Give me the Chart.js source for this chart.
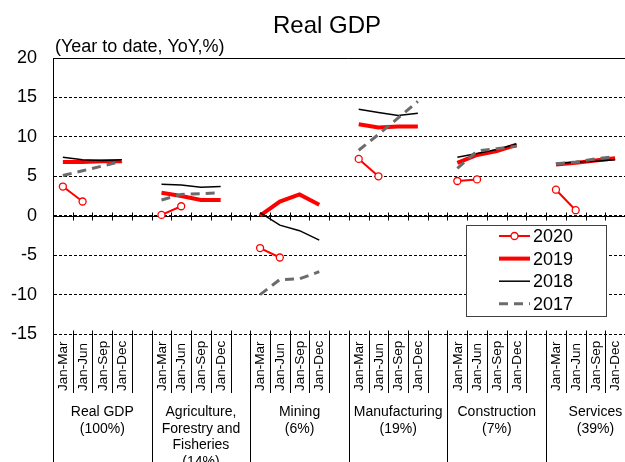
<!DOCTYPE html>
<html>
<head>
<meta charset="utf-8">
<script src="https://cdn.jsdelivr.net/npm/chart.js@4"></script>
<style>
  html, body { margin: 0; padding: 0; overflow: hidden; background: #fff; }
  canvas { display: block; }
</style>
</head>
<body>
<canvas id="gdpChart" width="650" height="462"></canvas>
<script>
// categories
const quarters = ['Jan-Mar', 'Jan-Jun', 'Jan-Sep', 'Jan-Dec'];
const groups = [
    ['Real GDP', '(100%)'],
    ['Agriculture,', 'Forestry and', 'Fisheries', '(14%)'],
    ['Mining', '(6%)'],
    ['Manufacturing', '(19%)'],
    ['Construction', '(7%)'],
    ['Services', '(39%)']
];

// values per group, quarter by quarter
const y2020 = [[3.7, 1.8], [0.1, 1.2], [-4.1, -5.3], [7.2, 5.0], [4.4, 4.6], [3.3, 0.7]];
const y2019 = [[6.8, 6.8, 6.9, 6.9], [2.9, 2.5, 2.0, 2.0], [0.0, 1.8, 2.7, 1.4], [11.6, 11.2, 11.3, 11.3], [6.7, 7.7, 8.2, 9.0], [6.5, 6.7, 7.0, 7.3]];
const y2018 = [[7.4, 7.1, 7.0, 7.1], [4.0, 3.9, 3.6, 3.7], [0.4, -1.2, -1.9, -3.1], [13.5, 13.1, 12.7, 13.0], [7.4, 7.9, 8.4, 9.1], [6.6, 6.8, 6.9, 7.1]];
const y2017 = [[5.1, 5.7, 6.3, 6.9], [2.0, 2.7, 2.8, 2.9], [-10.0, -8.1, -8.0, -7.1], [8.3, 10.3, 12.4, 14.5], [6.0, 8.2, 8.5, 8.8], [6.6, 6.8, 7.2, 7.5]];

// y axis ticks
const yTicks = [-15, -10, -5, 0, 5, 10, 15, 20];

const FONT = "'Liberation Sans', Arial, sans-serif";

// 4 quarters + one empty slot per group
const labels = [];
groups.forEach(() => { quarters.forEach(q => labels.push(q)); labels.push(''); });

function flatten(series) {
    const out = [];
    series.forEach(g => {
        for (let i = 0; i < 4; i++) out.push(g[i] === undefined ? null : g[i]);
        out.push(null);
    });
    return out;
}

const RED = '#ff0000';
const GREY = '#6b6b6b';

const decor = {
    id: 'decor',
    beforeDatasetsDraw(chart) {
        const ctx = chart.ctx;
        const xs = chart.scales.x, ys = chart.scales.y;
        const w = xs.getPixelForValue(1) - xs.getPixelForValue(0);
        ctx.save();
        ctx.strokeStyle = '#000';
        ctx.lineWidth = 1;
        // solid top border and zero line
        [20, 0].forEach(v => {
            const y = Math.round(ys.getPixelForValue(v)) + 0.5;
            ctx.beginPath();
            ctx.moveTo(xs.left, y);
            ctx.lineTo(xs.right, y);
            ctx.stroke();
        });
        // tick marks on zero line and bottom line
        [0, -15].forEach(v => {
            const y = Math.round(ys.getPixelForValue(v)) + 0.5;
            for (let b = 1; b <= labels.length; b++) {
                const x = Math.round(xs.getPixelForValue(b) - w / 2) + 0.5;
                ctx.beginPath();
                ctx.moveTo(x, y - 4);
                ctx.lineTo(x, y + 4);
                ctx.stroke();
            }
        });
        ctx.restore();
    },
    afterDraw(chart) {
        const ctx = chart.ctx;
        const xs = chart.scales.x, ys = chart.scales.y;
        const w = xs.getPixelForValue(1) - xs.getPixelForValue(0);
        const bottom = ys.getPixelForValue(-15);
        ctx.save();
        ctx.strokeStyle = '#000';
        ctx.lineWidth = 1;
        ctx.fillStyle = '#000';

        // separators in label area
        for (let b = 0; b <= labels.length; b++) {
            const x = Math.round(xs.getPixelForValue(b) - w / 2) + 0.5;
            const full = b % 5 === 0;
            ctx.beginPath();
            ctx.moveTo(x, bottom);
            ctx.lineTo(x, full ? chart.height : 393);
            ctx.stroke();
        }

        // quarter labels, rotated
        ctx.font = '13.5px ' + FONT;
        ctx.textAlign = 'left';
        ctx.textBaseline = 'middle';
        labels.forEach((lab, i) => {
            if (!lab) return;
            const x = xs.getPixelForValue(i);
            ctx.save();
            ctx.translate(x + 0.5, 391);
            ctx.rotate(-Math.PI / 2);
            ctx.fillText(lab, 0, 0);
            ctx.restore();
        });

        // group labels
        ctx.font = '14px ' + FONT;
        ctx.textAlign = 'center';
        ctx.textBaseline = 'alphabetic';
        groups.forEach((lines, g) => {
            const x0 = xs.getPixelForValue(g * 5) - w / 2;
            const cx = x0 + w * 2.5;
            lines.forEach((t, k) => ctx.fillText(t, cx, 416 + k * 16.5));
        });

        // title and unit
        ctx.font = '24px ' + FONT;
        ctx.fillText('Real GDP', 327, 33);
        ctx.font = '18px ' + FONT;
        ctx.textAlign = 'left';
        ctx.fillText('(Year to date, YoY,%)', 55, 52);

        // legend
        const lx = 466, ly = 225, lw = 140, lh = 91;
        ctx.fillStyle = '#fff';
        ctx.fillRect(lx, ly, lw, lh);
        ctx.strokeStyle = '#404040';
        ctx.strokeRect(lx + 0.5, ly + 0.5, lw, lh);
        const items = chart.data.datasets;
        items.forEach((ds, k) => {
            const y = 236 + k * 22.6;
            ctx.save();
            ctx.strokeStyle = ds.borderColor;
            ctx.lineWidth = ds.borderWidth;
            ctx.setLineDash(ds.borderDash || []);
            ctx.beginPath();
            ctx.moveTo(499, y);
            ctx.lineTo(530, y);
            ctx.stroke();
            if (ds.pointRadius) {
                ctx.setLineDash([]);
                ctx.fillStyle = '#fff';
                ctx.lineWidth = 1.3;
                ctx.beginPath();
                ctx.arc(514.5, y, 3.5, 0, Math.PI * 2);
                ctx.fill();
                ctx.stroke();
            }
            ctx.restore();
            ctx.fillStyle = '#000';
            ctx.font = '18px ' + FONT;
            ctx.textAlign = 'left';
            ctx.textBaseline = 'middle';
            ctx.fillText(ds.label, 533, y + 1);
        });
        ctx.restore();
    }
};

const ctx = document.getElementById('gdpChart').getContext('2d');
const gdpChart = new Chart(ctx, {
    type: 'line',
    data: {
        labels: labels,
        datasets: [
            {
                label: '2020', data: flatten(y2020), borderColor: RED, borderWidth: 2,
                pointRadius: 3.5, pointBackgroundColor: '#fff', pointBorderColor: RED, pointBorderWidth: 1.3,
                order: 4
            },
            { label: '2019', data: flatten(y2019), borderColor: RED, borderWidth: 4, pointRadius: 0, order: 3 },
            { label: '2018', data: flatten(y2018), borderColor: '#000', borderWidth: 1.5, pointRadius: 0, order: 2 },
            { label: '2017', data: flatten(y2017), borderColor: GREY, borderWidth: 3, borderDash: [9, 6], pointRadius: 0, order: 1 }
        ]
    },
    options: {
        responsive: false,
        animation: false,
        spanGaps: false,
        layout: { padding: { top: 58, right: 4, left: 0, bottom: 0 } },
        plugins: {
            legend: { display: false },
            title: { display: false },
            tooltip: { enabled: false }
        },
        scales: {
            x: {
                type: 'category',
                offset: true,
                grid: { display: false },
                border: { display: false },
                ticks: { display: false },
                afterFit: s => { s.height = 128; }
            },
            y: {
                min: yTicks[0],
                max: yTicks[yTicks.length - 1],
                afterBuildTicks: s => { s.ticks = yTicks.map(v => ({ value: v })); },
                grid: { color: '#000', lineWidth: 1, drawTicks: false },
                border: { display: true, color: '#000', width: 1, dash: [3, 2] },
                ticks: { color: '#000', font: { size: 18, family: FONT }, padding: 16 },
                afterFit: s => { s.width = 53; }
            }
        }
    },
    plugins: [decor]
});
</script>
</body>
</html>
